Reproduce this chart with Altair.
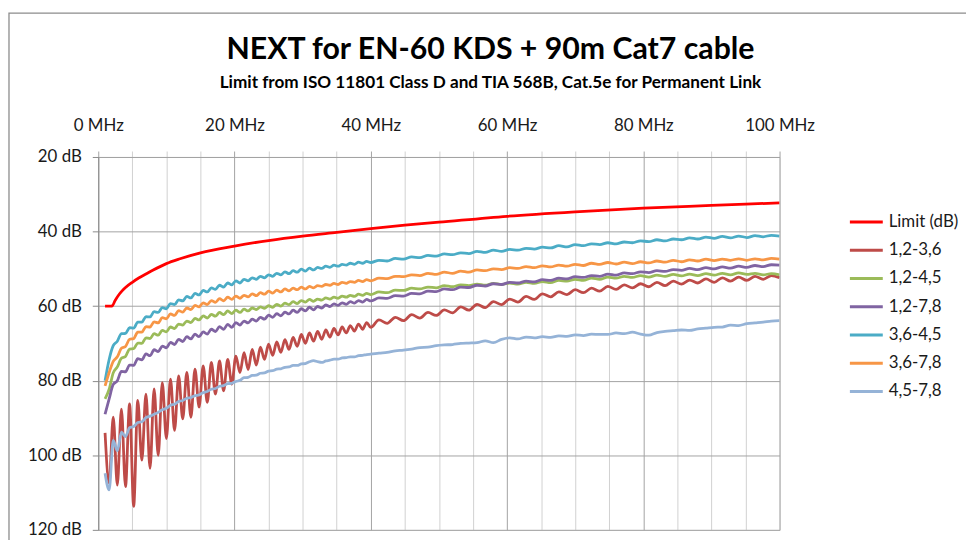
import altair as alt
import pandas as pd

SERIES = ["Limit (dB)", "1,2-3,6", "1,2-4,5", "1,2-7,8", "3,6-4,5", "3,6-7,8", "4,5-7,8"]
COLORS = ["#FF0000", "#BE4B48", "#9BBB59", "#8064A2", "#4BACC6", "#F79646", "#95B3D7"]

X_TICKS = [0, 5, 10, 15, 20, 25, 30, 35, 40, 45, 50, 55, 60, 65, 70, 75, 80, 85, 90, 95, 100]
Y_TICKS = [20, 40, 60, 80, 100, 120]

LIMIT_F = [1.0, 2.0, 2.5, 3.0, 3.5, 4.0, 5.0, 6.0, 7.0, 8.0, 10.0, 12.0, 15.0, 20.0,
           25.0, 30.0, 35.0, 40.0, 45.0, 50.0, 60.0, 70.0, 80.0, 90.0, 100.0]
LIMIT_DB = [60.0, 60.0, 58.4, 57.0, 55.9, 55.0, 53.6, 52.4, 51.4, 50.4, 48.6, 47.3, 45.7, 43.9,
            42.4, 41.2, 40.2, 39.2, 38.3, 37.5, 35.9, 34.7, 33.7, 33.0, 32.3]

FREQ = [1.0, 1.6, 2.2, 2.8, 3.4, 4.0, 4.6, 5.2, 5.8, 6.4,
        7.0, 7.6, 8.2, 8.8, 9.4, 10.0, 10.6, 11.2, 11.8, 12.4,
        13.0, 13.6, 14.2, 14.8, 15.4, 16.0, 16.6, 17.2, 17.8, 18.4,
        19.0, 19.6, 20.2, 20.8, 21.4, 22.0, 22.6, 23.2, 23.8, 24.4,
        25.0, 25.6, 26.2, 26.8, 27.4, 28.0, 28.6, 29.2, 29.8, 30.4,
        31.0, 31.6, 32.2, 32.8, 33.4, 34.0, 34.6, 35.2, 35.8, 36.4,
        37.0, 37.6, 38.2, 38.8, 39.4, 40.0,
        41.2, 42.4, 43.6, 44.8, 46.0, 47.2, 48.4, 49.6, 50.8, 52.0,
        53.2, 54.4, 55.6, 56.8, 58.0, 59.2, 60.4, 61.6, 62.8, 64.0,
        65.2, 66.4, 67.6, 68.8, 70.0, 71.2, 72.4, 73.6, 74.8, 76.0,
        77.2, 78.4, 79.6, 80.8, 82.0, 83.2, 84.4, 85.6, 86.8, 88.0,
        89.2, 90.4, 91.6, 92.8, 94.0, 95.2, 96.4, 97.6, 98.8, 100.0]

P12_36 = [94.0, 107.5, 89.8, 108.0, 87.6, 108.4, 86.2, 113.7, 85.3, 101.3,
          83.6, 103.5, 82.2, 100.0, 80.5, 95.5, 79.6, 93.3, 78.7, 90.2,
          77.8, 89.8, 76.9, 87.1, 76.0, 85.8, 75.1, 83.6, 74.7, 82.7,
          74.3, 80.9, 73.4, 77.8, 72.5, 77.0, 71.6, 75.8, 71.0, 74.3,
          70.2, 73.2, 69.6, 72.4, 69.0, 71.6, 68.4, 70.8, 67.6, 70.0,
          67.2, 69.4, 66.8, 68.9, 66.4, 68.3, 66.0, 67.7, 65.6, 67.2,
          65.2, 66.7, 64.8, 66.2, 64.4, 65.7,
          63.7, 64.6, 63.0, 63.9, 62.3, 63.2, 61.7, 62.5, 61.0, 61.8,
          60.2, 61.1, 59.5, 60.4, 58.8, 59.6, 58.1, 58.9, 57.4, 58.2,
          56.7, 57.5, 56.2, 56.9, 55.6, 56.4, 55.2, 56.0, 54.7, 55.5,
          54.3, 55.1, 54.0, 54.8, 53.6, 54.5, 53.3, 54.1, 53.0, 53.8,
          52.7, 53.6, 52.4, 53.3, 52.2, 53.1, 52.0, 52.8, 51.8, 52.4]

P12_45 = [84.9, 82.3, 77.9, 76.3, 74.0, 73.5, 71.5, 71.4, 69.9, 70.0,
          68.5, 68.7, 67.4, 67.8, 66.5, 66.9, 65.6, 66.0, 64.8, 65.1,
          64.0, 64.4, 63.3, 63.7, 62.6, 63.2, 62.2, 62.7, 61.7, 62.3,
          61.3, 62.0, 61.1, 61.7, 60.8, 61.3, 60.5, 60.9, 60.2, 60.6,
          59.9, 60.3, 59.5, 60.0, 59.2, 59.6, 58.8, 59.3, 58.5, 58.9,
          58.2, 58.7, 58.1, 58.4, 57.8, 58.1, 57.6, 57.9, 57.3, 57.6,
          57.1, 57.4, 56.8, 57.1, 56.6, 56.9,
          56.2, 56.4, 55.7, 55.8, 55.2, 55.4, 54.9, 55.1, 54.5, 54.8,
          54.3, 54.5, 54.1, 54.4, 53.9, 54.2, 53.8, 54.1, 53.6, 53.9,
          53.4, 53.7, 53.1, 53.3, 52.8, 53.1, 52.5, 52.8, 52.2, 52.5,
          52.0, 52.3, 51.8, 52.2, 51.7, 52.0, 51.5, 51.9, 51.4, 51.8,
          51.3, 51.7, 51.2, 51.6, 51.1, 51.5, 51.2, 51.6, 51.3, 51.6]

P12_78 = [89.0, 84.9, 81.0, 80.0, 77.5, 77.6, 75.8, 75.9, 74.1, 74.4,
          72.8, 73.3, 71.7, 72.2, 70.7, 71.2, 69.7, 70.3, 68.9, 69.5,
          68.2, 68.8, 67.5, 68.2, 66.9, 67.5, 66.2, 66.8, 65.5, 66.2,
          64.9, 65.7, 64.4, 65.1, 64.0, 64.5, 63.5, 64.0, 63.0, 63.5,
          62.4, 63.0, 62.0, 62.6, 61.6, 62.1, 61.1, 61.7, 60.7, 61.3,
          60.3, 61.0, 60.1, 60.5, 59.7, 60.1, 59.4, 59.8, 59.1, 59.5,
          58.8, 59.2, 58.5, 58.9, 58.2, 58.6,
          57.8, 57.9, 57.2, 57.3, 56.6, 56.7, 56.0, 56.1, 55.4, 55.6,
          54.9, 55.0, 54.4, 54.6, 54.0, 54.2, 53.6, 53.8, 53.3, 53.5,
          52.9, 53.1, 52.5, 52.7, 52.1, 52.3, 51.8, 52.0, 51.4, 51.7,
          51.1, 51.3, 50.8, 51.0, 50.5, 50.7, 50.2, 50.4, 49.9, 50.2,
          49.7, 50.0, 49.5, 49.8, 49.3, 49.6, 49.1, 49.4, 48.9, 49.0]

P36_45 = [80.0, 74.3, 70.6, 69.4, 67.4, 67.3, 65.8, 65.9, 64.3, 64.3,
          62.8, 62.9, 61.5, 61.7, 60.4, 60.7, 59.3, 59.6, 58.3, 58.6,
          57.4, 57.8, 56.6, 57.0, 55.8, 56.2, 55.1, 55.5, 54.4, 54.9,
          53.8, 54.3, 53.2, 53.8, 52.8, 53.2, 52.4, 52.8, 52.0, 52.4,
          51.6, 52.0, 51.2, 51.6, 50.8, 51.3, 50.5, 50.9, 50.1, 50.6,
          49.8, 50.3, 49.6, 49.9, 49.3, 49.6, 49.0, 49.3, 48.8, 49.0,
          48.5, 48.8, 48.2, 48.5, 48.0, 48.3,
          47.7, 47.9, 47.2, 47.4, 46.8, 47.0, 46.4, 46.6, 46.0, 46.2,
          45.7, 45.9, 45.3, 45.6, 45.0, 45.3, 44.8, 45.0, 44.5, 44.7,
          44.2, 44.4, 43.8, 44.1, 43.5, 43.8, 43.3, 43.5, 43.0, 43.3,
          42.8, 43.0, 42.5, 42.7, 42.2, 42.5, 42.0, 42.2, 41.7, 42.0,
          41.5, 41.8, 41.3, 41.7, 41.2, 41.6, 41.1, 41.4, 41.0, 41.2]

P36_78 = [81.4, 77.8, 74.8, 73.6, 71.3, 70.8, 68.9, 68.7, 67.0, 67.0,
          65.5, 65.6, 64.2, 64.5, 63.1, 63.4, 62.1, 62.5, 61.2, 61.6,
          60.5, 60.9, 59.8, 60.2, 59.1, 59.6, 58.5, 59.0, 58.0, 58.6,
          57.6, 58.2, 57.3, 57.9, 57.1, 57.5, 56.7, 57.2, 56.4, 56.8,
          56.0, 56.5, 55.7, 56.2, 55.4, 55.9, 55.2, 55.6, 54.9, 55.4,
          54.7, 55.1, 54.5, 54.7, 54.2, 54.4, 53.9, 54.2, 53.6, 53.9,
          53.4, 53.6, 53.1, 53.4, 52.9, 53.2,
          52.5, 52.6, 52.0, 52.1, 51.6, 51.8, 51.2, 51.5, 50.9, 51.2,
          50.6, 50.9, 50.3, 50.5, 50.0, 50.2, 49.7, 49.9, 49.4, 49.7,
          49.2, 49.5, 49.0, 49.3, 48.8, 49.1, 48.5, 48.8, 48.3, 48.7,
          48.2, 48.6, 48.1, 48.4, 47.9, 48.2, 47.7, 48.1, 47.6, 47.9,
          47.4, 47.8, 47.4, 47.7, 47.3, 47.7, 47.3, 47.6, 47.2, 47.4]

P45_78 = [104.8, 109.3, 96.0, 98.8, 93.8, 95.0, 92.6, 92.3, 91.2, 91.0,
          89.9, 89.5, 89.0, 88.5, 87.8, 87.4, 86.6, 86.3, 85.6, 85.3,
          84.7, 84.5, 84.0, 83.8, 83.2, 82.9, 82.3, 82.1, 81.5, 81.3,
          80.8, 80.7, 80.2, 79.9, 79.2, 79.1, 78.6, 78.5, 78.0, 77.9,
          77.4, 77.3, 76.9, 76.8, 76.4, 76.3, 75.9, 75.9, 75.5, 75.4,
          74.9, 74.6, 74.9, 75.1, 74.7, 74.5, 74.2, 74.2, 73.9, 73.8,
          73.6, 73.6, 73.3, 73.2, 73.0, 72.9,
          72.6, 72.4, 72.0, 71.8, 71.5, 71.1, 71.0, 70.6, 70.4, 70.3,
          70.0, 69.9, 69.8, 69.3, 69.8, 68.9, 68.5, 68.8, 68.3, 68.5,
          68.2, 68.4, 68.0, 68.1, 67.7, 67.9, 67.5, 67.6, 67.6, 67.2,
          67.4, 67.0, 67.5, 67.8, 67.1, 66.8, 66.6, 66.4, 66.5, 66.1,
          65.9, 65.7, 65.6, 65.1, 65.2, 64.7, 64.5, 64.3, 64.0, 63.9]

MEASURED = [P12_36, P12_45, P12_78, P36_45, P36_78, P45_78]

rows = []
for f, v in zip(LIMIT_F, LIMIT_DB):
    rows.append({"series": SERIES[0], "f": f, "db": v})
for name, vals in zip(SERIES[1:], MEASURED):
    assert len(vals) == len(FREQ), (name, len(vals), len(FREQ))
    for f, v in zip(FREQ, vals):
        rows.append({"series": name, "f": f, "db": v})
df = pd.DataFrame(rows)

FONT = "Lato"
minor_major = {"condition": {"test": "datum.value % 20 === 0", "value": "#a3a3a3"}, "value": "#d0d0d0"}

x_axis = alt.Axis(
    orient="top", values=X_TICKS,
    labelExpr="datum.value % 20 === 0 ? datum.value + ' MHz' : ''",
    labelOverlap=False, labelFlush=False, tickSize=6,
    tickColor=minor_major, gridColor=minor_major, gridWidth=1,
    domainColor="#a3a3a3", labelFont=FONT, labelFontSize=17,
    labelColor="#1a1a1a", labelPadding=17, title=None,
)
y_axis = alt.Axis(
    values=Y_TICKS, labelExpr="datum.value + ' dB'", labelFlush=False,
    tickSize=6, tickColor="#8a8a8a", domainColor="#8a8a8a",
    gridColor="#a3a3a3", labelFont=FONT, labelFontSize=17,
    labelColor="#1a1a1a", labelPadding=11, title=None,
)

lines = alt.Chart(df).mark_line(strokeWidth=2.8, clip=True, interpolate="monotone").encode(
    x=alt.X("f:Q", scale=alt.Scale(domain=[0, 100], nice=False, zero=False), axis=x_axis),
    y=alt.Y("db:Q", scale=alt.Scale(domain=[20, 120], reverse=True, nice=False, zero=False), axis=y_axis),
    color=alt.Color(
        "series:N",
        scale=alt.Scale(domain=SERIES, range=COLORS),
        sort=SERIES,
        legend=alt.Legend(
            orient="none", legendX=756, legendY=47, title=None,
            symbolType="stroke", symbolSize=1100, symbolStrokeWidth=3,
            labelFont=FONT, labelFontSize=17, labelColor="#1a1a1a",
            rowPadding=1.5, labelOffset=4, padding=0,
        ),
    ),
)

frame = alt.Chart(pd.DataFrame({"k": [0]})).mark_rect(
    fillOpacity=0, stroke="#8c8c8c", strokeWidth=1.3
).encode(
    x=alt.value(-90), x2=alt.value(900), y=alt.value(-145), y2=alt.value(420)
)

chart = alt.layer(frame, lines).properties(
    width=687, height=376,
    title=alt.TitleParams(
        text="NEXT for EN-60 KDS + 90m Cat7 cable",
        subtitle="Limit from ISO 11801 Class D and TIA 568B, Cat.5e for Permanent Link",
        font=FONT, fontSize=30.5, fontWeight="bold", color="#000000",
        subtitleFont=FONT, subtitleFontSize=17.3, subtitleFontWeight="bold",
        subtitleColor="#000000", subtitlePadding=8,
        anchor="middle", frame="group", dx=52, dy=111, offset=32,
    ),
    autosize=alt.AutoSizeParams(type="none"),
    padding={"left": 91, "top": 148, "right": 188, "bottom": 8},
).configure_view(strokeWidth=0).configure(background="white")

chart.save("out.html", embed_options={"renderer": "svg", "actions": False})
